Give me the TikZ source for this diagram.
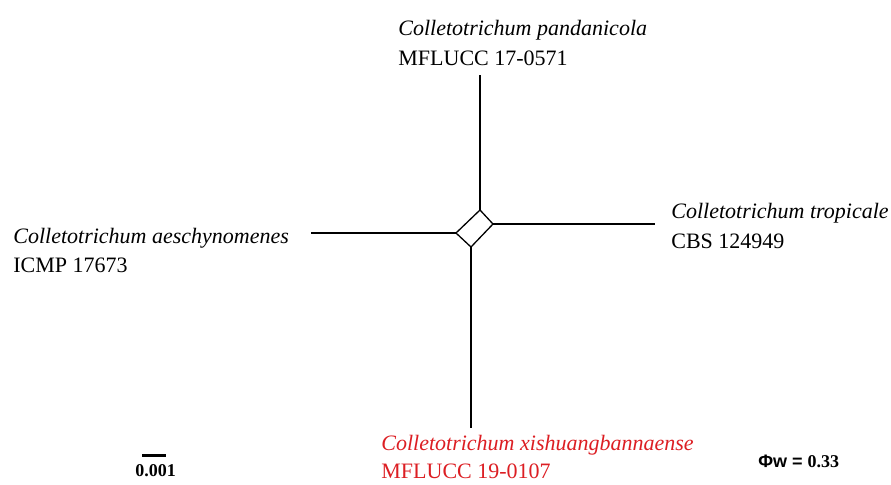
\documentclass[tikz,border=0pt]{standalone}
\usepackage{fontspec}
\setmainfont{Liberation Serif}
\setsansfont{Liberation Sans}
\usetikzlibrary{positioning}
\definecolor{xired}{RGB}{220,30,35}
\tikzset{
    taxon/.style = {font=\fontsize{11}{13}\selectfont\itshape, anchor=base west, inner sep=0pt},
    strain/.style = {font=\fontsize{11}{13}\selectfont, anchor=base west, inner sep=0pt},
    edge/.style = {draw, line width=0.65pt},
    small/.style = {font=\fontsize{9}{11}\selectfont\bfseries, inner sep=0pt}
}
\begin{document}
\begin{tikzpicture}[x=0.5pt, y=-0.5pt]
    \useasboundingbox (0,0) rectangle (891,484);
    % split box
    \coordinate (boxT) at (480,210);
    \coordinate (boxR) at (493,224);
    \coordinate (boxB) at (471,247);
    \coordinate (boxL) at (456,233);
    \draw [edge, line join=miter] (boxT) -- (boxR) -- (boxB) -- (boxL) -- cycle;
    % pendant edges
    \coordinate (pandEnd) at (480,75);
    \coordinate (tropEnd) at (655,224);
    \coordinate (xishEnd) at (471,428);
    \coordinate (aescEnd) at (311,233);
    \draw [edge] (boxT) -- (pandEnd);
    \draw [edge] (boxR) -- (tropEnd);
    \draw [edge] (boxB) -- (xishEnd);
    \draw [edge] (boxL) -- (aescEnd);
    % taxa
    \node [taxon] (pand) at (398,35) {Colletotrichum pandanicola};
    \node [strain] (pandID) at ([yshift=-15pt]pand.base west) {MFLUCC 17-0571};
    \node [taxon] (trop) at (671,218) {Colletotrichum tropicale};
    \node [strain] (tropID) at ([yshift=-15pt]trop.base west) {CBS 124949};
    \node [taxon] (aesc) at (13,243) {Colletotrichum aeschynomenes};
    \node [strain] (aescID) at ([yshift=-14.5pt]aesc.base west) {ICMP 17673};
    \node [taxon, text=xired] (xish) at (381,450) {Colletotrichum xishuangbannaense};
    \node [strain, text=xired] (xishID) at ([yshift=-14pt]xish.base west) {MFLUCC 19-0107};
    % scale bar and fit
    \coordinate (barL) at (142,455.5);
    \coordinate (barR) at (166,455.5);
    \draw [line width=1.6pt] (barL) -- (barR);
    \node [small, anchor=base west] (barlab) at (135,476) {0.001};
    \node [small, anchor=base west] (fit) at (758,467) {\sffamily\bfseries \char"03A6w = \rmfamily\bfseries 0.33};
\end{tikzpicture}
\end{document}
